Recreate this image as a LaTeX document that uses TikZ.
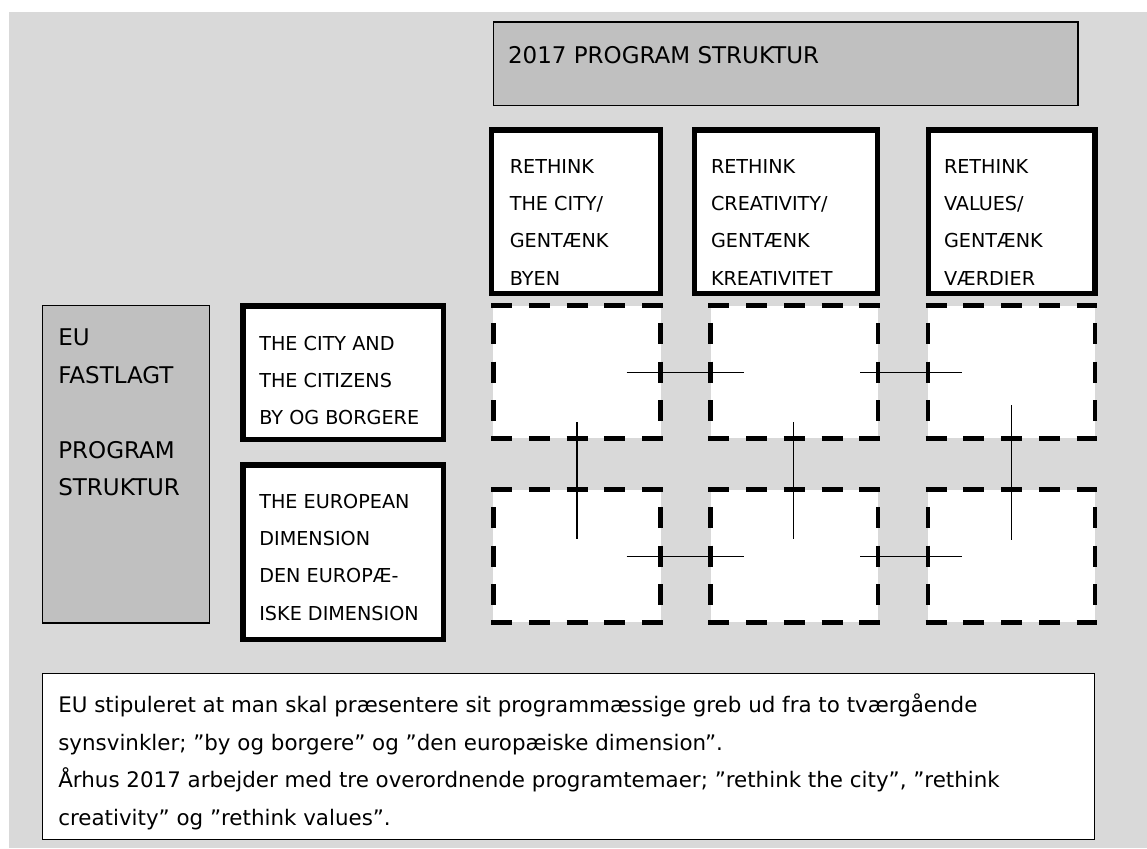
\documentclass[tikz,border=0pt]{standalone}
\usepackage{fontspec}
\setmainfont{DejaVu Sans}
\usetikzlibrary{calc}
\definecolor{bg}{HTML}{D9D9D9}
\definecolor{boxgray}{HTML}{C0C0C0}
\newcommand\szA{\fontsize{23}{37.5}\selectfont}
\newcommand\szB{\fontsize{19.2}{37.3}\selectfont}
\newcommand\szC{\fontsize{21.4}{37.5}\selectfont}
\begin{document}
\begin{tikzpicture}[x=1pt,y=-1pt,
  thinbox/.style={draw=black, line width=1.4pt, inner sep=0pt, outer sep=0pt},
  thickbox/.style={draw=black, fill=white, line width=5.2pt, inner sep=0pt, outer sep=0pt},
  dbox/.style={fill=white, inner sep=0pt, outer sep=0pt, minimum width=167.3pt, minimum height=132.9pt},
  hdash/.style={line width=4.5pt, dash pattern=on 21pt off 16.75pt},
  vdash/.style={line width=4.5pt, dash pattern=on 21pt off 17.5pt, dash phase=21pt},
  link/.style={line width=1.5pt},
  txt/.style={anchor=base west, inner sep=0pt, outer sep=0pt},
]
\useasboundingbox (0,0) rectangle (1147,848);
\fill[bg] (9,12) rectangle (1147,848);

% title box
\node[thinbox, fill=boxgray, minimum width=584.6pt, minimum height=83.3pt] (title) at (785.7,63.65) {};
\node[txt] (ttitle) at (508,63.3) {\szA 2017 PROGRAM STRUKTUR};

% rethink boxes
\node[thickbox, minimum width=168.8pt, minimum height=163.5pt] (r1) at (576,211.65) {};
\node[thickbox, minimum width=183.3pt, minimum height=163.5pt] (r2) at (785.75,211.65) {};
\node[thickbox, minimum width=166.8pt, minimum height=163.5pt] (r3) at (1011.5,211.65) {};
\node[txt] (tr1) at (509.8,173.3) {\parbox[t]{160pt}{\szB RETHINK\\THE CITY/\\GENTÆNK\\BYEN}};
\node[txt] (tr2) at (711,173.3) {\parbox[t]{170pt}{\szB RETHINK\\CREATIVITY/\\GENTÆNK\\KREATIVITET}};
\node[txt] (tr3) at (944,173.3) {\parbox[t]{150pt}{\szB RETHINK\\VALUES/\\GENTÆNK\\VÆRDIER}};

% EU box
\node[thinbox, fill=boxgray, minimum width=167.2pt, minimum height=317.1pt] (eu) at (126,464.25) {};
\node[txt] (teu) at (58.3,345.7) {\parbox[t]{150pt}{\szA EU\\FASTLAGT\\[37.5pt]PROGRAM\\STRUKTUR}};

% city / european boxes
\node[thickbox, minimum width=200.2pt, minimum height=133.5pt] (city) at (343,372.65) {};
\node[thickbox, minimum width=200.2pt, minimum height=174.5pt] (euro) at (343,552.15) {};
\node[txt] (tcity) at (259.3,350) {\parbox[t]{190pt}{\szB THE CITY AND\\THE CITIZENS\\BY OG BORGERE}};
\node[txt] (teuro) at (259.3,508.3) {\parbox[t]{190pt}{\szB THE EUROPEAN\\DIMENSION\\DEN EUROPÆ-\\ISKE DIMENSION}};

% dashed grid boxes
\node[dbox] (d11) at (577,372) {};
\node[dbox] (d12) at (794.15,372) {};
\node[dbox] (d13) at (1011.5,372) {};
\node[dbox] (d21) at (577,556) {};
\node[dbox] (d22) at (794.15,556) {};
\node[dbox] (d23) at (1011.5,556) {};
\foreach \n in {d11,d12,d13,d21,d22,d23}{
  \draw[hdash] ([xshift=-2.25pt]\n.north west) -- ([xshift=2.25pt]\n.north east);
  \draw[hdash] ([xshift=-2.25pt]\n.south west) -- ([xshift=2.25pt]\n.south east);
  \draw[vdash] (\n.north west) -- (\n.south west);
  \draw[vdash] (\n.north east) -- (\n.south east);
}

% connectors
\coordinate (h1a) at (626.7,372.3); \coordinate (h1b) at (744.3,372.3);
\coordinate (h2a) at (860,372.3);   \coordinate (h2b) at (961.7,372.3);
\coordinate (h3a) at (626.7,556.3); \coordinate (h3b) at (744.3,556.3);
\coordinate (h4a) at (860,556.3);   \coordinate (h4b) at (961.7,556.3);
\coordinate (v1a) at (577,422.3);   \coordinate (v1b) at (577,539.3);
\coordinate (v2a) at (793.7,422.3); \coordinate (v2b) at (793.7,539.3);
\coordinate (v3a) at (1011.3,405.3); \coordinate (v3b) at (1011.3,540);
\draw[link] (h1a) -- (h1b);
\draw[link] (h2a) -- (h2b);
\draw[link] (h3a) -- (h3b);
\draw[link] (h4a) -- (h4b);
\draw[link] (v1a) -- (v1b);
\draw[link] (v2a) -- (v2b);
\draw[link] (v3a) -- (v3b);

% bottom note
\node[thinbox, fill=white, minimum width=1051.9pt, minimum height=165.9pt] (note) at (568.35,756.35) {};
\node[txt] (tnote) at (58.3,712.8) {\parbox[t]{1030pt}{\szC EU stipuleret at man skal præsentere sit programmæssige greb ud fra to tværgående\\synsvinkler; ”by og borgere” og ”den europæiske dimension”.\\Århus 2017 arbejder med tre overordnende programtemaer; ”rethink the city”, ”rethink\\creativity” og ”rethink values”.}};
\end{tikzpicture}
\end{document}
